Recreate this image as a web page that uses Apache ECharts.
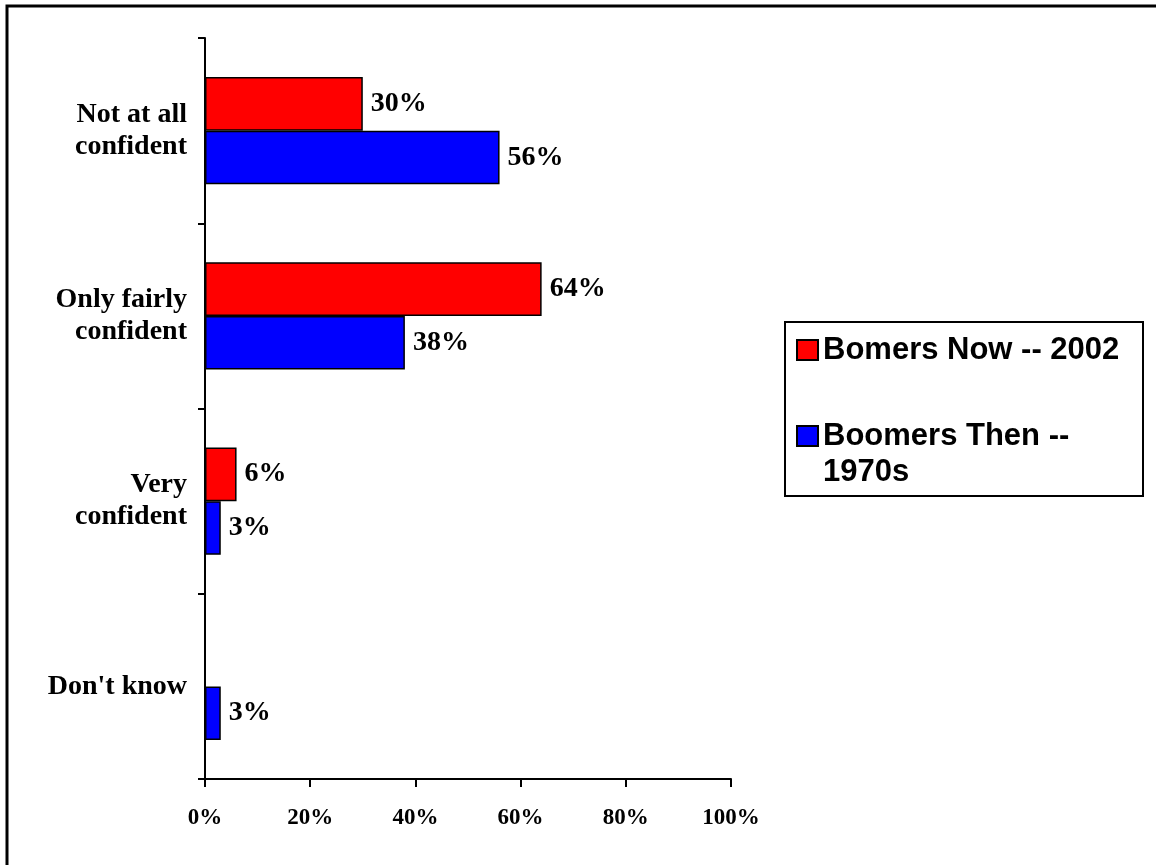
<!DOCTYPE html>
<html>
<head>
<meta charset="utf-8">
<script src="https://cdn.jsdelivr.net/npm/echarts@6/dist/echarts.min.js"></script>
<style>
  html, body { margin: 0; padding: 0; background: #fff; }
  #chart { width: 1156px; height: 865px; }
</style>
</head>
<body>
<div id="chart"></div>
<script>
// categories top to bottom
const categories = ['Not at all\nconfident', 'Only fairly\nconfident', 'Very\nconfident', "Don't know"]
const seriesNames = ['Bomers Now -- 2002', 'Boomers Then -- 1970s']
const nowValues = [30, 64, 6, null]
const thenValues = [56, 38, 3, 3]
const xTicks = [0, 20, 40, 60, 80, 100]

const serif = '"Liberation Serif", "Times New Roman", serif'
const sans = '"Liberation Sans", Arial, sans-serif'

const myChart = echarts.init(document.getElementById('chart'))

const barLabel = {
  show: true,
  position: 'right',
  distance: 8,
  formatter: '{c}%',
  color: '#000',
  fontFamily: serif,
  fontWeight: 'bold',
  fontSize: 28
}

const legendText = { fontFamily: sans, fontWeight: 'bold', fontSize: 31, color: '#000', lineHeight: 36 }

const option = {
  animation: false,
  backgroundColor: '#fff',
  grid: {
    left: 205,
    right: 425,
    top: 38,
    bottom: 86
  },
  legend: [
    {
      data: [seriesNames[0]],
      left: 796,
      top: 332,
      padding: 0,
      itemWidth: 21,
      itemHeight: 20,
      icon: 'rect',
      textStyle: legendText
    },
    {
      data: [seriesNames[1]],
      left: 796,
      top: 382,
      padding: 0,
      itemWidth: 21,
      itemHeight: 20,
      icon: 'rect',
      // empty first line keeps the swatch next to the first text line
      formatter: name => '\n' + name.replace(' 1970s', '\n1970s'),
      textStyle: legendText
    }
  ],
  graphic: [
    {
      // outer frame (only top / left visible)
      type: 'rect',
      shape: { x: 7, y: 6, width: 1170, height: 900 },
      style: { fill: 'none', stroke: '#000', lineWidth: 3 },
      silent: true
    },
    {
      // legend box
      type: 'rect',
      shape: { x: 785, y: 322, width: 358, height: 174 },
      style: { fill: 'none', stroke: '#000', lineWidth: 2 },
      z: 10,
      silent: true
    }
  ],
  xAxis: {
    type: 'value',
    min: 0,
    max: 100,
    interval: 20,
    axisLine: { show: true, lineStyle: { color: '#000', width: 2 } },
    axisTick: { show: true, length: 8, lineStyle: { color: '#000', width: 2 } },
    axisLabel: {
      color: '#000',
      fontFamily: serif,
      fontWeight: 'bold',
      fontSize: 23,
      margin: 28,
      formatter: v => xTicks.includes(v) ? v + '%' : ''
    },
    splitLine: { show: false }
  },
  yAxis: {
    type: 'category',
    inverse: true,
    data: categories,
    axisLine: { show: true, lineStyle: { color: '#000', width: 2 } },
    axisTick: { show: true, length: 7, interval: 0, lineStyle: { color: '#000', width: 2 } },
    axisLabel: {
      color: '#000',
      fontFamily: serif,
      fontWeight: 'bold',
      fontSize: 28,
      lineHeight: 32,
      align: 'right',
      margin: 18
    }
  },
  series: [
    {
      name: seriesNames[0],
      type: 'bar',
      data: nowValues,
      barGap: '0%',
      barCategoryGap: '42%',
      itemStyle: { color: '#ff0000', borderColor: '#000', borderWidth: 1.5 },
      label: barLabel
    },
    {
      name: seriesNames[1],
      type: 'bar',
      data: thenValues,
      itemStyle: { color: '#0000ff', borderColor: '#000', borderWidth: 1.5 },
      label: barLabel
    }
  ]
}

myChart.setOption(option)
</script>
</body>
</html>
